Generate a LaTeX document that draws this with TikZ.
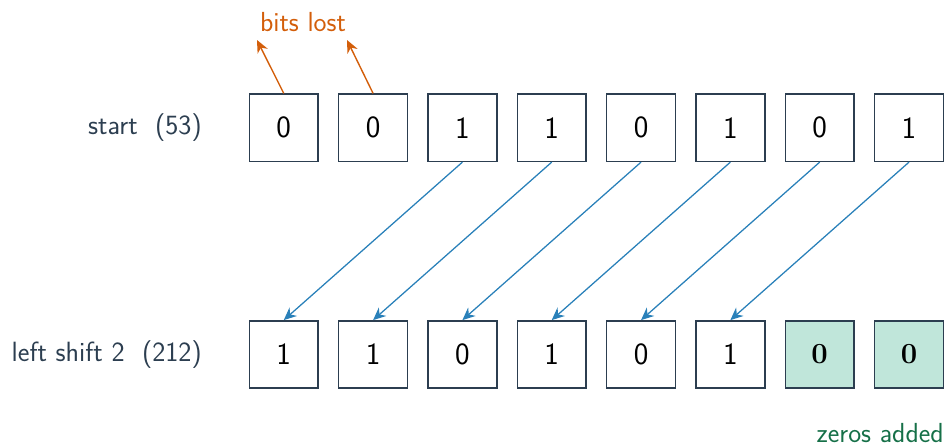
\documentclass[tikz,border=0pt]{standalone}
\usetikzlibrary{arrows.meta}
\renewcommand{\familydefault}{\sfdefault}
\definecolor{inkslate}{RGB}{44,62,80}
\definecolor{lostorange}{RGB}{211,94,10}
\definecolor{shiftblue}{RGB}{41,128,185}
\definecolor{newfill}{RGB}{192,230,218}
\definecolor{newgreen}{RGB}{22,112,72}
\tikzset{
  bitbox/.style    = {draw=inkslate, line width=1.1pt, minimum width=1.72cm,
                      minimum height=1.68cm, inner sep=0pt, text=black,
                      font=\fontsize{22}{26}\selectfont},
  bitnew/.style    = {bitbox, fill=newfill},   % zero shifted in from the right
  rowlabel/.style  = {anchor=east, inner sep=0pt, text=inkslate,
                      font=\fontsize{19.8}{23}\selectfont},
  note/.style      = {inner sep=0pt, font=\fontsize{19.6}{23}\selectfont},
  shiftarrow/.style = {draw=shiftblue, line width=0.9pt,
                       -{Stealth[length=9pt, width=8pt]}},
  lostarrow/.style  = {draw=lostorange, line width=1pt,
                       -{Stealth[length=9pt, width=8pt]}},
}

\begin{document}
\begin{tikzpicture}
    \useasboundingbox (0,0) rectangle (23.725,-11.2);

    \node[rowlabel] (lstart) at (5.05,-3.19) {start\ \ (53)};
    \node[rowlabel] (lshift) at (5.05,-8.86) {left shift 2\ \ (212)};

    \node[bitbox] (t0) at (7.094,-3.194)  {0};
    \node[bitbox] (t1) at (9.327,-3.194)  {0};
    \node[bitbox] (t2) at (11.560,-3.194) {1};
    \node[bitbox] (t3) at (13.793,-3.194) {1};
    \node[bitbox] (t4) at (16.026,-3.194) {0};
    \node[bitbox] (t5) at (18.259,-3.194) {1};
    \node[bitbox] (t6) at (20.492,-3.194) {0};
    \node[bitbox] (t7) at (22.725,-3.194) {1};

    \node[bitbox] (b0) at (7.094,-8.862)  {1};
    \node[bitbox] (b1) at (9.327,-8.862)  {1};
    \node[bitbox] (b2) at (11.560,-8.862) {0};
    \node[bitbox] (b3) at (13.793,-8.862) {1};
    \node[bitbox] (b4) at (16.026,-8.862) {0};
    \node[bitbox] (b5) at (18.259,-8.862) {1};
    \node[bitnew] (b6) at (20.492,-8.862) {$\mathbf{0}$};
    \node[bitnew] (b7) at (22.725,-8.862) {$\mathbf{0}$};

    \node[note, anchor=base, text=lostorange] (lost) at (7.575,-0.78) {bits lost};
    \coordinate (lostA) at (6.425,-1.0);
    \coordinate (lostB) at (8.675,-1.0);
    \draw[lostarrow] (t0.north) -- (lostA);
    \draw[lostarrow] (t1.north) -- (lostB);

    \draw[shiftarrow] (t2.south) -- (b0.north);
    \draw[shiftarrow] (t3.south) -- (b1.north);
    \draw[shiftarrow] (t4.south) -- (b2.north);
    \draw[shiftarrow] (t5.south) -- (b3.north);
    \draw[shiftarrow] (t6.south) -- (b4.north);
    \draw[shiftarrow] (t7.south) -- (b5.north);

    \node[note, anchor=base east, text=newgreen] (zeros) at (23.6,-11.06) {zeros added};
\end{tikzpicture}
\end{document}
